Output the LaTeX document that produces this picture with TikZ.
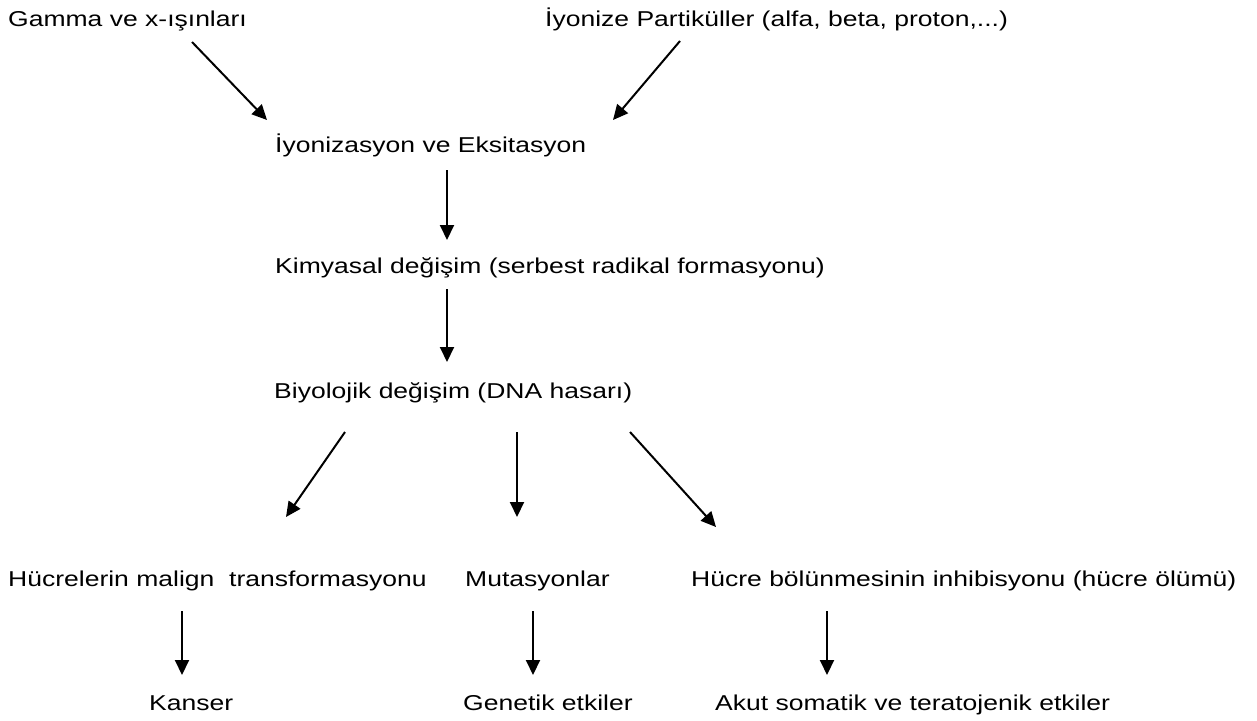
\documentclass[tikz,border=0pt]{standalone}
\usepackage{fontspec}
\usepackage{graphicx}
\setmainfont{Liberation Sans}
\usetikzlibrary{arrows.meta}
\newcommand{\sx}[1]{\scalebox{1.233}[1]{#1}}
\tikzset{
  txt/.style={anchor=base west, inner sep=0pt, font=\fontsize{21.5pt}{24pt}\selectfont},
  arr/.style={-{Triangle[length=15pt,width=14pt]}, line width=2pt}
}
\begin{document}
\begin{tikzpicture}[x=1pt,y=-1pt]
\useasboundingbox (0,0) rectangle (1257,720);
\node[txt] (gamma) at (8,27) {\sx{Gamma ve x-ışınları}};
\node[txt] (part) at (545,27) {\sx{İyonize Partiküller (alfa, beta, proton,...)}};
\node[txt] (iyon) at (275,152) {\sx{İyonizasyon ve Eksitasyon}};
\node[txt] (kim) at (275,273) {\sx{Kimyasal değişim (serbest radikal formasyonu)}};
\node[txt] (bio) at (274,398) {\sx{Biyolojik değişim (DNA hasarı)}};
\node[txt] (malign) at (8,586) {\sx{Hücrelerin malign\ \ transformasyonu}};
\node[txt] (mut) at (465,586) {\sx{Mutasyonlar}};
\node[txt] (inh) at (691,586) {\sx{Hücre bölünmesinin inhibisyonu (hücre ölümü)}};
\node[txt] (kanser) at (149,710) {\sx{Kanser}};
\node[txt] (gen) at (463,710) {\sx{Genetik etkiler}};
\node[txt] (akut) at (715,710) {\sx{Akut somatik ve teratojenik etkiler}};
% connector end points
\coordinate (a1s) at (192,42);  \coordinate (a1e) at (267,120);
\coordinate (a2s) at (680,41);  \coordinate (a2e) at (613,120);
\coordinate (a3s) at (447,170); \coordinate (a3e) at (447,240);
\coordinate (a4s) at (447,289); \coordinate (a4e) at (447,362);
\coordinate (a5s) at (345,432); \coordinate (a5e) at (286,517);
\coordinate (a6s) at (517,432); \coordinate (a6e) at (517,517);
\coordinate (a7s) at (630,432); \coordinate (a7e) at (716,527);
\coordinate (a8s) at (182,611); \coordinate (a8e) at (182,675);
\coordinate (a9s) at (533,611); \coordinate (a9e) at (533,675);
\coordinate (a10s) at (827,611); \coordinate (a10e) at (827,675);
\draw[arr] (a1s) -- (a1e);
\draw[arr] (a2s) -- (a2e);
\draw[arr] (a3s) -- (a3e);
\draw[arr] (a4s) -- (a4e);
\draw[arr] (a5s) -- (a5e);
\draw[arr] (a6s) -- (a6e);
\draw[arr] (a7s) -- (a7e);
\draw[arr] (a8s) -- (a8e);
\draw[arr] (a9s) -- (a9e);
\draw[arr] (a10s) -- (a10e);
\end{tikzpicture}
\end{document}
